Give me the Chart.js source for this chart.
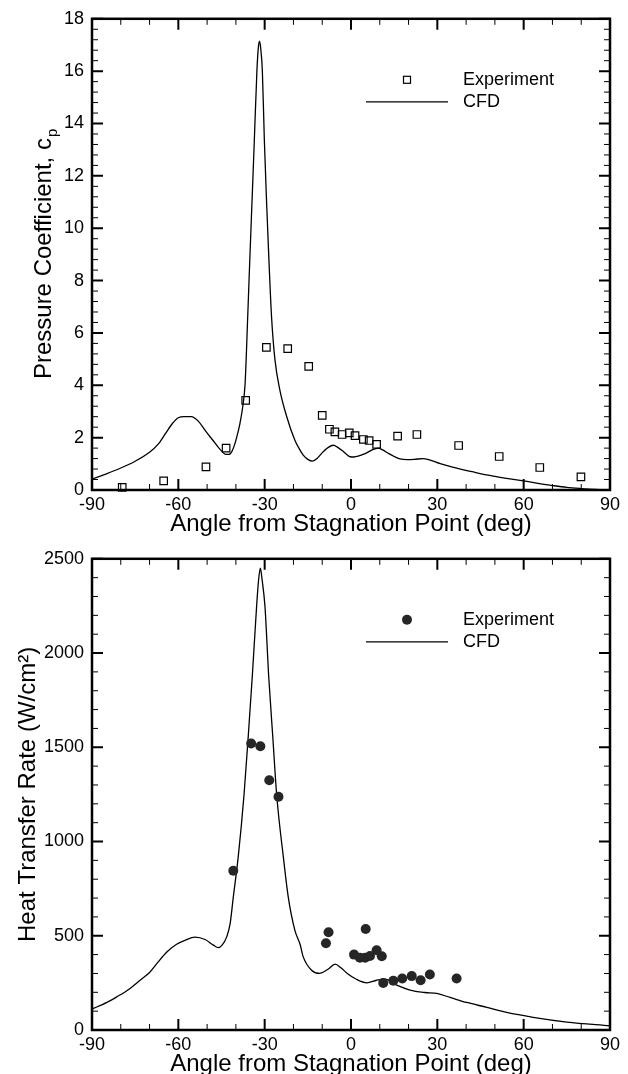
<!DOCTYPE html>
<html>
<head>
<meta charset="utf-8">
<script src="https://cdn.jsdelivr.net/npm/chart.js@4"></script>
<style>
  html, body { margin: 0; padding: 0; background: #fff; overflow: hidden; }
  #wrap { position: relative; width: 628px; height: 1074px; overflow: hidden; }
  canvas { position: absolute; left: 0; }
</style>
</head>
<body>
<div id="wrap">
  <canvas id="cpChart" width="628" height="537" style="top:0px"></canvas>
  <canvas id="qChart" width="628" height="537" style="top:540px"></canvas>
</div>
<script>
// angle ticks shared by both plots
const angleTicks = [-90, -60, -30, 0, 30, 60, 90];

// pressure coefficient - experiment
const cpExpAngle = [-79.5, -65.1, -50.4, -43.4, -36.6, -29.4, -22.0, -14.7, -10.0, -7.5, -5.6, -3.1, -0.6, 1.4, 4.3, 6.3, 8.9, 16.2, 22.9, 37.4, 51.5, 65.6, 79.9];
const cpExpValue = [0.1, 0.35, 0.88, 1.6, 3.42, 5.45, 5.4, 4.72, 2.85, 2.32, 2.22, 2.12, 2.18, 2.08, 1.93, 1.89, 1.74, 2.06, 2.12, 1.70, 1.28, 0.86, 0.50];

// pressure coefficient - CFD
const cpCfdAngle = [-90, -85, -80, -75, -70, -67, -64.5, -62, -60, -58, -55.5, -53, -50.5, -48, -45.5, -43.5, -42.5, -41.5, -40.3, -39.4, -38.6, -37.6, -36.8, -35.9, -35.1, -34.3, -33.6, -32.7, -32.2, -31.8, -31.4, -30.8, -30.1, -29.3, -28.6, -27.6, -26.4, -24.7, -22.3, -19.5, -18, -16.6, -15, -13.4, -11.8, -10.2, -8, -6.1, -4.6, -3.2, -1.5, -0.3, 1, 2.5, 4, 5.5, 7.5, 9.5, 11, 13, 15, 17, 19.5, 22, 25, 27.5, 31, 35, 38, 42, 46, 50, 54, 60, 65, 70, 75, 80, 85, 90];
const cpCfdValue = [0.42, 0.62, 0.84, 1.1, 1.44, 1.75, 2.15, 2.55, 2.76, 2.8, 2.8, 2.62, 2.25, 1.9, 1.55, 1.36, 1.36, 1.45, 1.78, 2.15, 2.54, 3.2, 4.06, 6.6, 9.0, 11.3, 13.33, 16.0, 16.9, 17.15, 16.9, 16.0, 13.33, 10.9, 9.0, 6.6, 4.95, 3.81, 2.79, 1.9, 1.58, 1.33, 1.17, 1.1, 1.2, 1.4, 1.62, 1.71, 1.63, 1.52, 1.36, 1.27, 1.26, 1.29, 1.35, 1.42, 1.54, 1.6, 1.53, 1.4, 1.28, 1.19, 1.16, 1.17, 1.2, 1.14, 1.01, 0.88, 0.80, 0.70, 0.60, 0.52, 0.44, 0.35, 0.25, 0.17, 0.1, 0.055, 0.02, 0];

// heat transfer rate - experiment
const qExpAngle = [-40.9, -34.7, -31.5, -28.4, -25.2, -8.7, -7.8, 1.05, 3.1, 4.9, 5.1, 6.6, 8.9, 10.7, 11.2, 14.7, 17.8, 21.1, 24.2, 27.4, 36.7];
const qExpValue = [845, 1520, 1505, 1325, 1238, 460, 519, 400, 383, 383, 536, 393, 423, 391, 250, 261, 273, 286, 264, 294, 273];

// heat transfer rate - CFD
const qCfdAngle = [-90, -85, -81.4, -77, -73.3, -70, -67.5, -64, -60.6, -57.7, -54.2, -50.7, -47.8, -46.1, -44.8, -43.2, -42, -40.9, -39.2, -37.2, -35.7, -34.3, -32.8, -32.1, -31.5, -30.9, -29.9, -28.6, -27.2, -25.8, -23.5, -21.8, -19.5, -17.7, -16.6, -13.7, -11, -8, -5.5, -3.5, -1.5, 2, 5.5, 8.9, 11.8, 15.9, 20.5, 25.7, 29.8, 34.4, 40.2, 47.2, 54.1, 63.3, 75, 90];
const qCfdValue = [111, 145, 176, 218, 264, 305, 352, 414, 455, 476, 493, 480, 450, 437, 450, 494, 564, 705, 917, 1243, 1560, 1877, 2248, 2390, 2450, 2390, 2248, 1877, 1560, 1243, 917, 705, 529, 455, 388, 317, 300, 322, 349, 330, 303, 268, 250, 264, 270, 238, 212, 199, 194, 173, 146, 120, 93, 67, 42, 22];

const FONT = '"Liberation Sans", Arial, Helvetica, sans-serif';
Chart.defaults.font.family = FONT;
Chart.defaults.color = '#000';

const toPoints = (xs, ys) => xs.map((x, i) => ({x: x, y: ys[i]}));

// closed frame with inward major/minor ticks on all four sides
const framePlugin = {
    id: 'frame',
    afterDatasetsDraw(chart, args, opts) {
        const {ctx, chartArea: a, scales: {x, y}} = chart;
        ctx.save();
        ctx.strokeStyle = '#000';
        const isMajor = (scale, v) => scale.ticks.some(t => Math.abs(t.value - v) < 1e-6);

        const drawTicks = (scale, step, horizontal) => {
            const n = Math.round((scale.max - scale.min) / step);
            for (let i = 0; i <= n; i++) {
                const v = scale.min + i * step;
                const major = isMajor(scale, v);
                const len = major ? 11 : 6;
                const p = scale.getPixelForValue(v);
                ctx.lineWidth = major ? 2 : 1;
                ctx.beginPath();
                if (horizontal) {
                    ctx.moveTo(p, a.bottom); ctx.lineTo(p, a.bottom - len);
                    ctx.moveTo(p, a.top); ctx.lineTo(p, a.top + len);
                } else {
                    ctx.moveTo(a.left, p); ctx.lineTo(a.left + len, p);
                    ctx.moveTo(a.right, p); ctx.lineTo(a.right - len, p);
                }
                ctx.stroke();
            }
        };
        drawTicks(x, opts.xMinor, true);
        drawTicks(y, opts.yMinor, false);

        ctx.lineWidth = 2.5;
        ctx.strokeRect(a.left, a.top, a.right - a.left, a.bottom - a.top);
        ctx.restore();
    }
};

// legend drawn inside the plot, upper right
const insetLegend = {
    id: 'insetLegend',
    afterDraw(chart, args, opts) {
        const {ctx, chartArea: a} = chart;
        const mx = a.left + 315;
        const tx = a.left + 371;
        const y1 = a.top + 61;
        const y2 = a.top + 83;
        ctx.save();
        ctx.strokeStyle = '#000';
        if (opts.marker === 'rect') {
            ctx.lineWidth = 1.2;
            ctx.strokeRect(mx - 3.5, y1 - 3.5, 7, 7);
        } else {
            ctx.fillStyle = '#262626';
            ctx.beginPath();
            ctx.arc(mx, y1, 5, 0, Math.PI * 2);
            ctx.fill();
        }
        ctx.lineWidth = 1.3;
        ctx.beginPath();
        ctx.moveTo(mx - 41, y2);
        ctx.lineTo(mx + 41, y2);
        ctx.stroke();
        ctx.fillStyle = '#000';
        ctx.font = '18px ' + FONT;
        ctx.textBaseline = 'middle';
        ctx.textAlign = 'left';
        ctx.fillText('Experiment', tx, y1);
        ctx.fillText('CFD', tx, y2);
        ctx.restore();
    }
};

// y title with subscript, only used on the cp plot
const cpTitle = {
    id: 'cpTitle',
    afterDraw(chart, args, opts) {
        if (!opts.text) return;
        const {ctx, chartArea: a} = chart;
        ctx.save();
        ctx.fillStyle = '#000';
        ctx.font = '24px ' + FONT;
        const w1 = ctx.measureText(opts.text).width;
        ctx.font = '15px ' + FONT;
        const w2 = ctx.measureText(opts.sub).width;
        ctx.translate(51, (a.top + a.bottom) / 2);
        ctx.rotate(-Math.PI / 2);
        ctx.textBaseline = 'alphabetic';
        ctx.textAlign = 'left';
        const x0 = -(w1 + w2) / 2;
        ctx.font = '24px ' + FONT;
        ctx.fillText(opts.text, x0, 0);
        ctx.font = '15px ' + FONT;
        ctx.fillText(opts.sub, x0 + w1 + 1, 6);
        ctx.restore();
    }
};

function makeChart(id, expPts, cfdPts, cfg) {
    return new Chart(document.getElementById(id), {
        type: 'line',
        data: {
            datasets: [
                {
                    label: 'Experiment',
                    data: expPts,
                    showLine: false,
                    pointStyle: cfg.marker,
                    pointRadius: cfg.marker === 'rect' ? 5.3 : 5,
                    pointBorderWidth: cfg.marker === 'rect' ? 1.2 : 0,
                    pointBackgroundColor: cfg.marker === 'rect' ? 'rgba(0,0,0,0)' : '#262626',
                    pointBorderColor: '#000',
                    clip: false
                },
                {
                    label: 'CFD',
                    data: cfdPts,
                    borderColor: '#000',
                    borderWidth: 1.3,
                    pointRadius: 0,
                    cubicInterpolationMode: 'monotone',
                    fill: false
                }
            ]
        },
        options: {
            responsive: false,
            animation: false,
            events: [],
            layout: { padding: { top: 17, right: 18, left: 0, bottom: 0 } },
            plugins: {
                legend: { display: false },
                tooltip: { enabled: false },
                frame: { xMinor: 10, yMinor: cfg.yMinor },
                insetLegend: { marker: cfg.marker },
                cpTitle: { text: cfg.customTitle, sub: cfg.customSub }
            },
            scales: {
                x: {
                    type: 'linear',
                    min: -90, max: 90,
                    afterBuildTicks: s => { s.ticks = angleTicks.map(v => ({value: v})); },
                    afterFit: s => { s.height = 47; },
                    grid: { display: false, drawTicks: false },
                    border: { display: false },
                    ticks: { padding: 4, font: { size: 18 }, color: '#000', maxRotation: 0, callback: v => String(v) },
                    title: {
                        display: true,
                        text: 'Angle from Stagnation Point (deg)',
                        font: { size: 24, lineHeight: 1 },
                        color: '#000',
                        padding: { top: 0, bottom: 1 }
                    }
                },
                y: {
                    type: 'linear',
                    min: 0, max: cfg.yMax,
                    ticks: { stepSize: cfg.yStep, padding: 8, font: { size: 18 }, color: '#000', callback: v => String(v) },
                    afterFit: s => { s.width = 92; },
                    grid: { display: false, drawTicks: false },
                    border: { display: false },
                    title: {
                        display: !!cfg.yTitle,
                        text: cfg.yTitle,
                        font: { size: 24, lineHeight: 1 },
                        color: '#000',
                        padding: { top: 16, bottom: 0 }
                    }
                }
            }
        },
        plugins: [framePlugin, insetLegend, cpTitle]
    });
}

makeChart('cpChart', toPoints(cpExpAngle, cpExpValue), toPoints(cpCfdAngle, cpCfdValue), {
    marker: 'rect', yMax: 18, yStep: 2, yMinor: 0.4,
    yTitle: '', customTitle: 'Pressure Coefficient, c', customSub: 'p'
});

makeChart('qChart', toPoints(qExpAngle, qExpValue), toPoints(qCfdAngle, qCfdValue), {
    marker: 'circle', yMax: 2500, yStep: 500, yMinor: 100,
    yTitle: 'Heat Transfer Rate (W/cm\u00B2)'
});
</script>
</body>
</html>
